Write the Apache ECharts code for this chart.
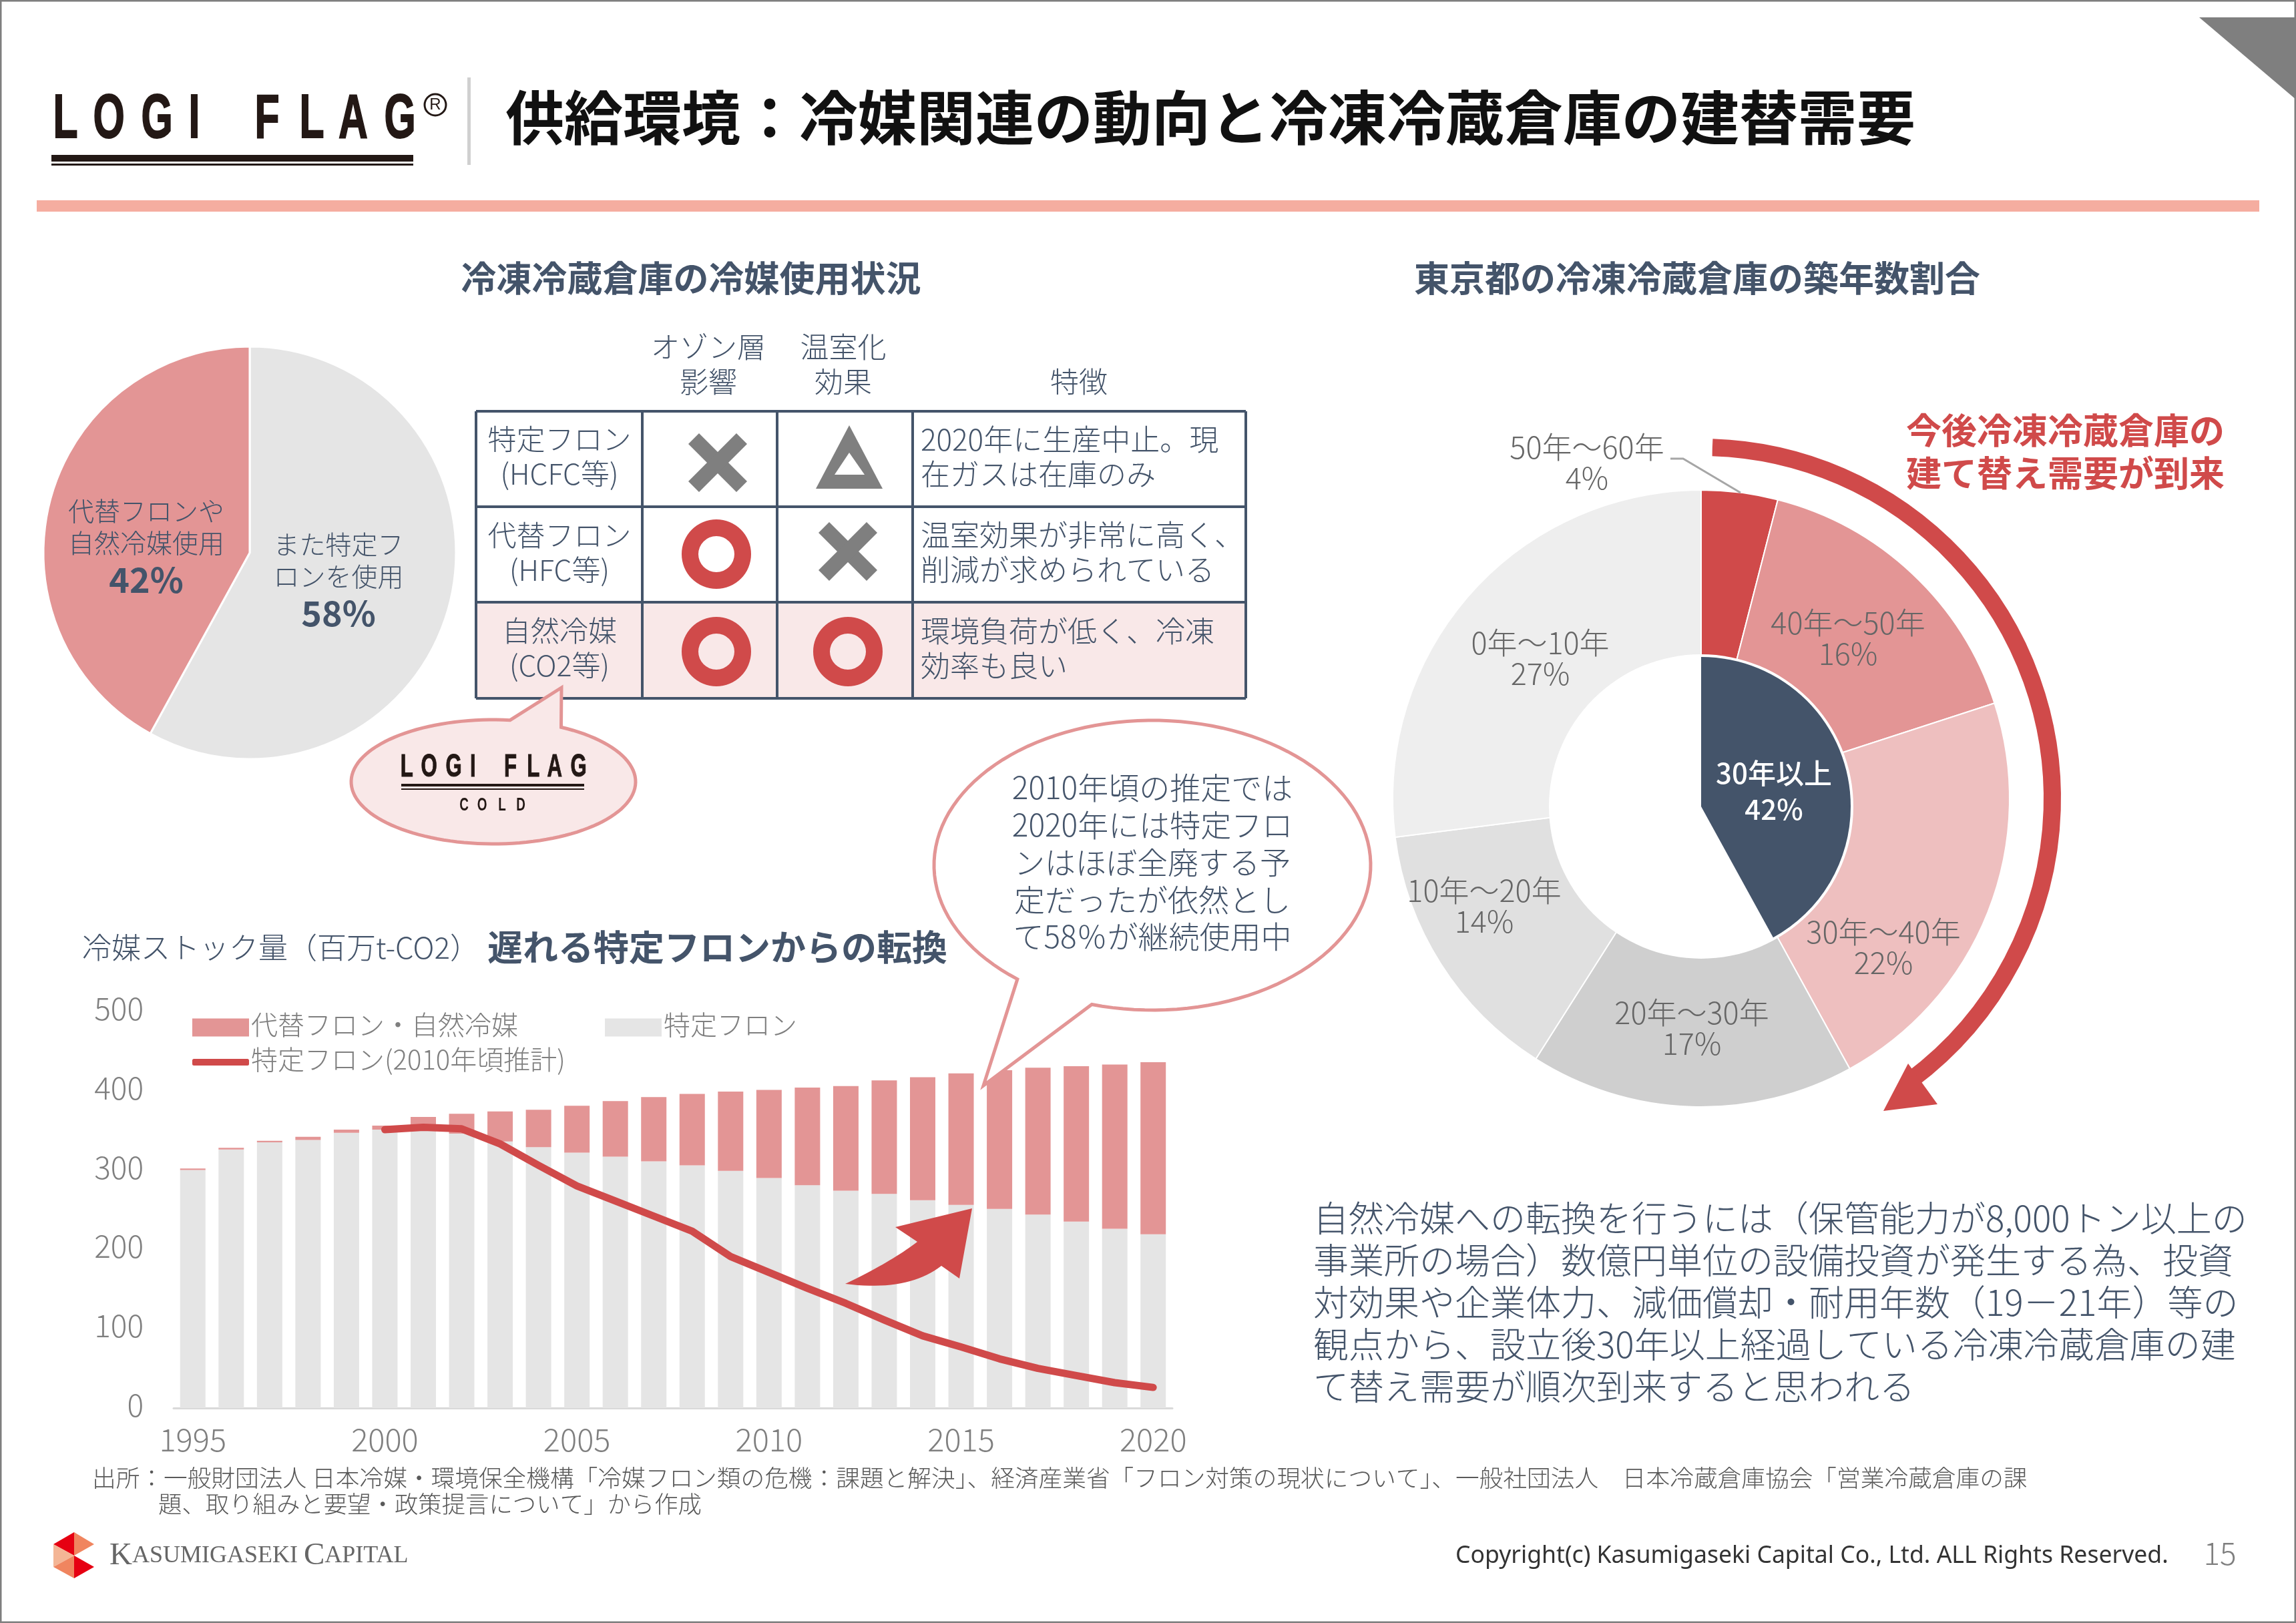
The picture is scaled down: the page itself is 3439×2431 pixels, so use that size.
<!DOCTYPE html>
<html>
<head>
<meta charset="utf-8">
<title>供給環境</title>
<script src="https://cdn.jsdelivr.net/npm/echarts@6/dist/echarts.min.js"></script>
<style>
  html, body { margin: 0; padding: 0; background: #fff; }
  #chart { width: 3439px; height: 2431px; }
</style>
</head>
<body>
<div id="chart"></div>
<script>
const years = ['1995','1996','1997','1998','1999','2000','2001','2002','2003','2004','2005','2006','2007','2008','2009','2010','2011','2012','2013','2014','2015','2016','2017','2018','2019','2020'];
const hcfcStock = [300,326,335,338,347,351,352,346,336,329,322,317,311,306,299,290,281,274,270,262,256,251,244,235,226,219];
const altStock = [2,2,2,4,4,5,15,25,38,47,59,70,81,90,100,111,123,132,143,155,166,175,185,196,207,217];
const hcfc2010Estimate = [null,null,null,null,null,351,354,352,333,306,280,261,242,223,191,171,151,132,111,91,77,62,50,41,32,26];
const yTicks = [0,100,200,300,400,500];

const useNames = ['また特定フ\nロンを使用','代替フロンや\n自然冷媒使用'];
const useShares = [58,42];
const ageNames = ['50年～60年','40年～50年','30年～40年','20年～30年','10年～20年','0年～10年'];
const ageShares = [4,16,22,17,14,27];
const over30Name = '30年以上';
const over30Shares = [42,58];

const tableHeaders = [['オゾン層','影響'],['温室化','効果'],['特徴']];
const tableRows = [
  ['特定フロン','(HCFC等)'],
  ['代替フロン','(HFC等)'],
  ['自然冷媒','(CO2等)']
];
const tableNotes = [
  ['2020年に生産中止。現','在ガスは在庫のみ'],
  ['温室効果が非常に高く、','削減が求められている'],
  ['環境負荷が低く、冷凍','効率も良い']
];
const balloonLines = ['2010年頃の推定では','2020年には特定フロ','ンはほぼ全廃する予','定だったが依然とし','て58％が継続使用中'];
const bodyLines = [
  '自然冷媒への転換を行うには（保管能力が8,000トン以上の',
  '事業所の場合）数億円単位の設備投資が発生する為、投資',
  '対効果や企業体力、減価償却・耐用年数（19－21年）等の',
  '観点から、設立後30年以上経過している冷凍冷蔵倉庫の建',
  'て替え需要が順次到来すると思われる'
];

const FONT = '"Noto Sans CJK JP", "Noto Sans", sans-serif';
const LOGO_FONT = '"Liberation Sans", sans-serif';
const NAVY = '#44546a';
const RED = '#d04a4a';
const PINK = '#e39595';
const GREY = '#e5e5e5';
const SYMBOL = '#7f7f7f';
const INK = '#231815';

const chart = echarts.init(document.getElementById('chart'));

// 文字のヘルパー
function txt(text, x, y, size, opt) {
  opt = opt || {};
  return {
    type: 'text', x: x, y: y, z: 30, scaleX: opt.scaleX || 1,
    style: {
      text: text,
      fill: opt.color || NAVY,
      fontSize: size,
      fontFamily: opt.family || FONT,
      fontWeight: opt.weight || 300,
      align: opt.align || 'left',
      verticalAlign: 'middle',
      textAlign: opt.align || 'left',
      textVerticalAlign: 'middle'
    }
  };
}
function rect(x, y, w, h, fill, z) {
  return { type: 'rect', z: z || 5, shape: { x: x, y: y, width: w, height: h }, style: { fill: fill } };
}
function poly(points, fill, z) {
  return { type: 'polygon', z: z || 20, shape: { points: points }, style: { fill: fill } };
}
function cross(cx, cy) {
  const a = 44, b = 44, w = 16;
  return [
    poly([[cx-a,cy-b+w],[cx-a+w,cy-b],[cx+a,cy+b-w],[cx+a-w,cy+b]], SYMBOL),
    poly([[cx+a,cy-b+w],[cx+a-w,cy-b],[cx-a,cy+b-w],[cx-a+w,cy+b]], SYMBOL)
  ];
}
function ring(cx, cy) {
  return { type: 'ring', z: 20, shape: { cx: cx, cy: cy, r: 52, r0: 27 }, style: { fill: RED } };
}
function logo(x0, scale, capY) {
  const marks = [['L',98],['O',163],['G',235],['I',291],['F',400],['L',467],['A',529],['G',599]];
  return marks.map(function (m) {
    const el = txt(m[0], x0 + (m[1] - 82) * scale, capY, 92 * scale,
      { family: LOGO_FONT, weight: 'bold', color: INK, align: 'center', scaleX: 0.66 });
    el.style.stroke = INK;
    el.style.lineWidth = 2 * scale;
    return el;
  });
}
// 楕円+しっぽの吹き出し
function balloon(cx, cy, rx, ry, from, tip, to, fill, z) {
  const pts = [];
  const a0 = Math.atan2((from[1] - cy) / ry, (from[0] - cx) / rx);
  let a1 = Math.atan2((to[1] - cy) / ry, (to[0] - cx) / rx);
  if (a1 < a0) a1 += Math.PI * 2;
  for (let i = 0; i <= 120; i++) {
    const a = a0 + (a1 - a0) * i / 120;
    pts.push([cx + rx * Math.cos(a), cy + ry * Math.sin(a)]);
  }
  pts.push(tip);
  return { type: 'polygon', z: z, shape: { points: pts }, style: { fill: fill, stroke: PINK, lineWidth: 5 } };
}
function quad(p0, c, p1) {
  const pts = [];
  for (let i = 0; i <= 20; i++) {
    const t = i / 20;
    pts.push([(1-t)*(1-t)*p0[0] + 2*t*(1-t)*c[0] + t*t*p1[0], (1-t)*(1-t)*p0[1] + 2*t*(1-t)*c[1] + t*t*p1[1]]);
  }
  return pts;
}

const tableX = [713, 962, 1164, 1367, 1866];
const tableY = [616, 759, 902, 1046];

const elements = [
  // 枠と上部
  { type: 'rect', z: 1, shape: { x: 1, y: 1, width: 3437, height: 2429 }, style: { fill: 'none', stroke: '#7f7f7f', lineWidth: 3 } },
  poly([[3294,26],[3439,26],[3439,149]], '#7f7f7f', 2),
  rect(55, 300, 3329, 17, '#f5ada0'),
  rect(700, 116, 5, 131, '#d0d0d0'),
  rect(77, 232, 542, 10, INK),
  rect(77, 245, 542, 3, INK),
  { type: 'circle', z: 20, shape: { cx: 652, cy: 157, r: 16 }, style: { fill: 'none', stroke: INK, lineWidth: 3 } },
  txt('R', 652, 157, 24, { color: INK, align: 'center', family: LOGO_FONT, weight: 400 }),
  txt('供給環境：冷媒関連の動向と冷凍冷蔵倉庫の建替需要', 757, 176, 88, { color: '#111', weight: 'bold' }),
  txt('冷凍冷蔵倉庫の冷媒使用状況', 1035, 417, 53, { weight: 'bold', align: 'center' }),
  txt('東京都の冷凍冷蔵倉庫の築年数割合', 2542, 417, 53, { weight: 'bold', align: 'center' }),

  // 表
  rect(tableX[0], tableY[2], tableX[4] - tableX[0], tableY[3] - tableY[2], '#f9e8e8', 3),
  txt(tableHeaders[0][0], 1061, 520, 43, { align: 'center' }),
  txt(tableHeaders[0][1], 1061, 572, 43, { align: 'center' }),
  txt(tableHeaders[1][0], 1263, 520, 43, { align: 'center' }),
  txt(tableHeaders[1][1], 1263, 572, 43, { align: 'center' }),
  txt(tableHeaders[2][0], 1616, 572, 43, { align: 'center' }),

  // 〇×△
  ...cross(1075, 693),
  ring(1073, 830),
  ...cross(1270, 826),
  ring(1073, 976),
  ring(1270, 976),
  poly([[1272,637],[1222,732],[1322,732]], SYMBOL),
  poly([[1272,678],[1250,711],[1295,711]], '#fff', 21),

  // 吹き出し(LOGI FLAG COLD)
  balloon(739, 1171, 213, 93, [842,1088], [841,1030], [765,1075], '#f9e8e8', 8),
  ...logo(601, 0.514, 1150),
  rect(601, 1174, 274, 4, INK, 10),
  rect(601, 1181, 274, 2, INK, 10),
  txt('C', 695, 1207, 27, { family: LOGO_FONT, weight: 'bold', color: INK, align: 'center', scaleX: 0.7 }),
  txt('O', 722, 1207, 27, { family: LOGO_FONT, weight: 'bold', color: INK, align: 'center', scaleX: 0.7 }),
  txt('L', 752, 1207, 27, { family: LOGO_FONT, weight: 'bold', color: INK, align: 'center', scaleX: 0.7 }),
  txt('D', 780, 1207, 27, { family: LOGO_FONT, weight: 'bold', color: INK, align: 'center', scaleX: 0.7 }),

  // 吹き出し(2010年頃の推定)
  balloon(1726, 1296, 327, 217, [1527,1464], [1473,1626], [1636,1503], '#fff', 25),

  // 棒グラフの見出し
  txt('冷媒ストック量（百万t-CO2）', 123, 1419, 44),
  txt('遅れる特定フロンからの転換', 730, 1419, 53, { weight: 'bold' }),

  // 棒グラフ上の矢印
  poly([].concat(
    quad([1266,1923], [1335,1890], [1374,1860]),
    [[1341,1838],[1456,1810],[1437,1915]],
    quad([1410,1896], [1360,1935], [1266,1923])
  ), RED),

  // ドーナツの周りの矢印
  {
    type: 'arc', z: 20,
    shape: { cx: 2548, cy: 1196, r: 526, startAngle: -88.15 * Math.PI / 180, endAngle: 53.5 * Math.PI / 180, clockwise: true },
    style: { fill: 'none', stroke: RED, lineWidth: 26 }
  },
  poly([[2821,1664],[2858,1593],[2902,1654]], RED),
  { type: 'polyline', z: 20, shape: { points: [[2502,687],[2521,687],[2607,738]] }, style: { stroke: '#a6a6a6', lineWidth: 3, fill: 'none' } },
  txt('今後冷凍冷蔵倉庫の', 2855, 645, 53, { color: RED, weight: 'bold' }),
  txt('建て替え需要が到来', 2855, 709, 53, { color: RED, weight: 'bold' }),

  // 出所
  txt('出所：一般財団法人 日本冷媒・環境保全機構「冷媒フロン類の危機：課題と解決」、経済産業省「フロン対策の現状について」、一般社団法人　日本冷蔵倉庫協会「営業冷蔵倉庫の課', 138, 2213, 35.7, { color: '#595959' }),
  txt('題、取り組みと要望・政策提言について」から作成', 237, 2253, 35.4, { color: '#595959' }),

  // フッター
  poly([[80,2313],[111,2295],[111,2330]], '#e60012'),
  poly([[111,2295],[141,2313],[111,2330]], '#f0855f'),
  poly([[80,2313],[111,2330],[80,2347]], '#f4b595'),
  poly([[80,2347],[111,2330],[111,2364]], '#f0855f'),
  poly([[111,2330],[141,2347],[111,2364]], '#e60012'),
  {
    type: 'text', x: 164, y: 2331, z: 30,
    style: {
      text: '{a|K}{b|ASUMIGASEKI }{a|C}{b|APITAL}',
      verticalAlign: 'middle', textVerticalAlign: 'middle',
      rich: {
        a: { fontFamily: '"Liberation Serif", serif', fontSize: 47, fill: '#666', color: '#666' },
        b: { fontFamily: '"Liberation Serif", serif', fontSize: 36, fill: '#666', color: '#666' }
      }
    }
  },
  txt('Copyright(c) Kasumigaseki Capital Co., Ltd. ALL Rights Reserved.', 2180, 2331, 35.6, { color: '#333', family: '"Noto Sans", sans-serif', weight: 400 }),
  txt('15', 3325, 2327, 46, { color: '#7f7f7f', align: 'center' })
];

// 罫線
tableX.forEach(function (x) {
  elements.push({ type: 'line', z: 6, shape: { x1: x, y1: tableY[0], x2: x, y2: tableY[3] }, style: { stroke: NAVY, lineWidth: 4 } });
});
tableY.forEach(function (y) {
  elements.push({ type: 'line', z: 6, shape: { x1: tableX[0], y1: y, x2: tableX[4], y2: y }, style: { stroke: NAVY, lineWidth: 4 } });
});
tableRows.forEach(function (row, i) {
  const y = 658 + i * 143.5;
  elements.push(txt(row[0], 838, y, 43, { align: 'center' }));
  elements.push(txt(row[1], 838, y + 52, 43, { align: 'center' }));
  elements.push(txt(tableNotes[i][0], 1379, y, 44));
  elements.push(txt(tableNotes[i][1], 1379, y + 52, 44));
});
balloonLines.forEach(function (line, i) {
  elements.push(txt(line, 1726, 1180 + i * 55.7, 46, { align: 'center' }));
});
bodyLines.forEach(function (line, i) {
  elements.push(txt(line, 1967, 1825 + i * 63, 53));
});
elements.push(...logo(82, 1, 181));

// ラベルの位置(データとは別に持つ)
const useLabelPos = [[507, 870], [219, 820]];
const ageLabelPos = [[2377, 693], [2768, 956], [2821, 1419], [2534, 1540], [2223, 1357], [2307, 986]];
const ageColors = [RED, PINK, '#eebfbf', '#cfcfcf', '#e0e0e0', '#eeeeee'];
const legendText = {
  rich: { n: { fontSize: 40, fontWeight: 300, color: '#7f7f7f', fontFamily: FONT, padding: [0, 0, 8, -2] } }
};
const legendLabel = '{n|{name}}';

const option = {
  backgroundColor: '#fff',
  animation: false,
  textStyle: { fontFamily: FONT },
  grid: { left: 260, top: 1515, width: 1496, height: 594 },
  xAxis: {
    type: 'category',
    data: years,
    axisTick: { show: false },
    axisLine: { lineStyle: { color: '#d9d9d9', width: 3 } },
    axisLabel: { interval: 4, fontSize: 47, fontWeight: 300, color: '#7f7f7f', margin: 24, fontFamily: FONT }
  },
  yAxis: {
    type: 'value',
    min: yTicks[0],
    max: yTicks[yTicks.length - 1],
    interval: 100,
    splitLine: { show: false },
    axisLine: { show: false },
    axisTick: { show: false },
    axisLabel: {
      margin: 45,
      formatter: '{v|{value}}',
      rich: { v: { fontSize: 46, fontWeight: 300, color: '#7f7f7f', fontFamily: FONT, padding: [0, 0, 9, 0] } }
    }
  },
  legend: [
    { left: 283, top: 1510, itemWidth: 85, itemHeight: 27, itemGap: 9, selectedMode: false, formatter: legendLabel, data: [{ name: '代替フロン・自然冷媒', icon: 'rect' }], textStyle: legendText },
    { left: 901, top: 1510, itemWidth: 85, itemHeight: 27, itemGap: 9, selectedMode: false, formatter: legendLabel, data: [{ name: '特定フロン', icon: 'rect' }], textStyle: legendText },
    { left: 283, top: 1562, itemWidth: 85, itemHeight: 10, itemGap: 9, selectedMode: false, formatter: legendLabel, data: [{ name: '特定フロン(2010年頃推計)', icon: 'roundRect', itemStyle: { color: RED } }], textStyle: legendText }
  ],
  series: [
    {
      name: '特定フロン', type: 'bar', stack: 'stock', barWidth: 38,
      data: hcfcStock, itemStyle: { color: GREY }
    },
    {
      name: '代替フロン・自然冷媒', type: 'bar', stack: 'stock', barWidth: 38,
      data: altStock, itemStyle: { color: PINK }
    },
    {
      name: '特定フロン(2010年頃推計)', type: 'line', data: hcfc2010Estimate,
      showSymbol: false, symbol: 'none', z: 5,
      lineStyle: { color: RED, width: 11, cap: 'round', join: 'round' },
      itemStyle: { color: RED }
    },
    {
      type: 'pie', center: [374, 828], radius: [0, 309], startAngle: 90, clockwise: true,
      silent: true,
      itemStyle: { borderColor: '#fff', borderWidth: 3 },
      labelLine: { show: false },
      labelLayout: function (p) {
        return { x: useLabelPos[p.dataIndex][0], y: useLabelPos[p.dataIndex][1], align: 'center', verticalAlign: 'middle' };
      },
      label: {
        show: true, position: 'inside',
        formatter: function (p) {
          return p.name.split('\n').map(function (l) { return '{t|' + l + '}'; }).join('\n') + '\n{v|' + p.value + '%}';
        },
        rich: {
          t: { fontSize: 39, fontWeight: 300, lineHeight: 48, color: NAVY, fontFamily: FONT },
          v: { fontSize: 52, fontWeight: 'bold', lineHeight: 62, color: NAVY, fontFamily: FONT }
        }
      },
      data: useNames.map(function (n, i) {
        return { name: n, value: useShares[i], itemStyle: { color: i === 0 ? GREY : PINK } };
      })
    },
    {
      type: 'pie', center: [2548, 1196], radius: [0, 462], startAngle: 90, clockwise: true,
      silent: true,
      itemStyle: { borderColor: '#fff', borderWidth: 2 },
      labelLine: { show: false },
      labelLayout: function (p) {
        return { x: ageLabelPos[p.dataIndex][0], y: ageLabelPos[p.dataIndex][1], align: 'center', verticalAlign: 'middle' };
      },
      label: {
        show: true, position: 'inside', lineHeight: 46,
        fontSize: 45, fontWeight: 300, color: '#666', fontFamily: FONT,
        formatter: function (p) { return p.name + '\n' + p.value + '%'; }
      },
      data: ageNames.map(function (n, i) {
        return { name: n, value: ageShares[i], itemStyle: { color: ageColors[i] } };
      })
    },
    {
      // 穴は外円より少し下にずれている
      type: 'pie', center: [2548, 1208], radius: [0, 228], silent: true, z: 3,
      label: { show: false }, labelLine: { show: false },
      data: [{ name: 'hole', value: 1, itemStyle: { color: '#fff' } }]
    },
    {
      type: 'pie', center: [2548, 1208], radius: [0, 224], startAngle: 90, clockwise: true,
      silent: true, z: 4,
      labelLine: { show: false },
      labelLayout: function (p) {
        return p.dataIndex === 0 ? { x: 2657, y: 1185, align: 'center', verticalAlign: 'middle' } : {};
      },
      data: [
        {
          name: over30Name, value: over30Shares[0], itemStyle: { color: NAVY },
          label: {
            show: true, position: 'inside', color: '#fff', fontSize: 42, fontWeight: 500, lineHeight: 54, fontFamily: FONT,
            formatter: function (p) { return p.name + '\n' + p.value + '%'; }
          }
        },
        { name: '', value: over30Shares[1], itemStyle: { color: 'rgba(0,0,0,0)' }, label: { show: false } }
      ]
    }
  ],
  graphic: { elements: elements }
};

chart.setOption(option);
</script>
</body>
</html>
